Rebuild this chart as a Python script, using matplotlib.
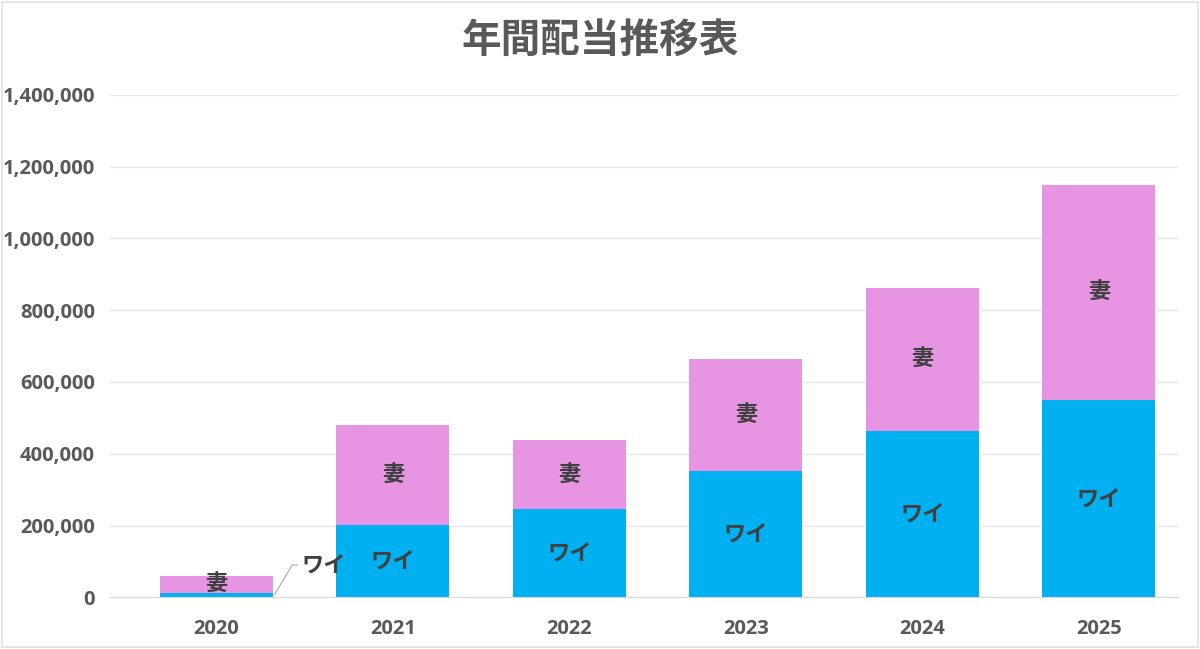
import matplotlib
matplotlib.use("Agg")
import matplotlib.pyplot as plt
from matplotlib.patches import Rectangle

plt.rcParams['font.family'] = ['Noto Sans CJK JP', 'DejaVu Sans']

years = ['2020', '2021', '2022', '2023', '2024', '2025']
wai = [11000, 201000, 245000, 351000, 463000, 549000]      # ワイ
tsuma = [48000, 278000, 192000, 312000, 398000, 600000]   # 妻

blue = '#00B0F0'
pink = '#E795E3'
text_col = '#404040'
tick_col = '#595959'

fig = plt.figure(figsize=(12, 6.49), dpi=100)
ax = fig.add_axes([0.092, 0.0797, 0.89, 0.774])

x = list(range(len(years)))
ax.bar(x, wai, width=0.64, color=blue, zorder=2)
ax.bar(x, tsuma, width=0.64, bottom=wai, color=pink, zorder=2)

ax.set_ylim(0, 1400000)
ax.set_xlim(-0.6, 5.45)
ax.set_yticks(range(0, 1400001, 200000))
ax.set_yticklabels([f'{v:,}' for v in range(0, 1400001, 200000)],
                   fontsize=14.5, fontweight='bold', color=tick_col, family='Open Sans')
ax.set_xticks(x)
ax.set_xticklabels(years, fontsize=14.5, fontweight='bold', color=tick_col, family='Open Sans')
ax.tick_params(length=0, pad=11)
ax.tick_params(axis='x', pad=16)
ax.grid(axis='y', color='#E6E6E6', linewidth=1, zorder=0)
for s in ['top', 'right', 'left']:
    ax.spines[s].set_visible(False)
ax.spines['bottom'].set_color('#D9D9D9')

# data labels
for i in x:
    ax.text(i, wai[i] + tsuma[i] / 2, '妻', ha='center', va='center',
            fontsize=16, fontweight='bold', color=text_col, zorder=3)
    if i == 0:
        continue
    ax.text(i, wai[i] / 2, 'ワイ', ha='center', va='center',
            fontsize=16, fontweight='bold', color=text_col, zorder=3)

# 2020 ワイ label outside with leader line
ax.plot([0.33, 0.43, 0.46], [wai[0] / 2 + 2000, 90000, 90000],
        color='#A6A6A6', linewidth=0.8, zorder=3, clip_on=False)
ax.text(0.48, 90000, 'ワイ', ha='left', va='center',
        fontsize=16, fontweight='bold', color=text_col, zorder=3)

fig.suptitle('年間配当推移表', y=0.97, fontsize=28.5, fontweight='bold', color=tick_col)

fig.patches.append(Rectangle((0.002, 0.003), 0.996, 0.994, transform=fig.transFigure,
                             fill=False, edgecolor='#E0E0E0', linewidth=1.2))

fig.savefig('out.png', dpi=100)
